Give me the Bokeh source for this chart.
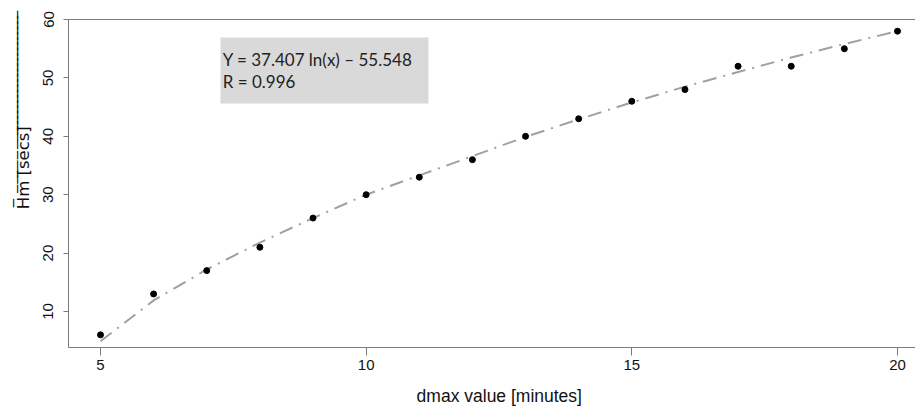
from bokeh.plotting import figure
from bokeh.models import Range1d, LinearAxis, FixedTicker, BoxAnnotation, Label
from bokeh.embed import file_html
from bokeh.resources import INLINE

# ---- data ----
dmax = [5, 6, 7, 8, 9, 10, 11, 12, 13, 14, 15, 16, 17, 18, 19, 20]
hm = [6, 13, 17, 21, 26, 30, 33, 36, 40, 43, 46, 48, 52, 52, 55, 58]
# fitted trend line as drawn in the reference, read at each dmax value
fit_hm = [4.9, 11.9, 17.2, 21.8, 26.0, 30.0, 33.3, 36.6, 39.9, 42.9, 45.8,
          48.5, 51.0, 53.5, 55.8, 58.0]
x_ticks = [5, 10, 15, 20]
y_ticks = [10, 20, 30, 40, 50, 60]
eq_text = "Y = 37.407 ln(x) \u2013 55.548"
r_text = "R = 0.996"
x_label = "dmax value [minutes]"
y_label = "Hm [secs]"

GRAY = "#7a7a7a"
FONT = "Liberation Sans"
TXT = "#111111"
NBSP = "\u00a0"
OVER = "\u0305"

# y title: overlined (the overline runs on past the text, as in the source)
y_title = NBSP * 28 + "".join(c + OVER for c in y_label + NBSP * 22)
x_title = NBSP * 3 + x_label

p = figure(width=915, height=410, output_backend="svg", toolbar_location=None,
           x_range=Range1d(4.398, 20.339), y_range=Range1d(3.836, 60),
           min_border_left=68, min_border_right=0, min_border_top=19,
           min_border_bottom=63, background_fill_color="white",
           border_fill_color="white")
p.outline_line_color = None
p.grid.visible = False

p.line(dmax, fit_hm, line_color="#a0a0a0", line_width=2, line_dash="14 7 2 7")
p.scatter(dmax, hm, size=6, color="black")

# axes
xa = p.xaxis[0]
xa.ticker = FixedTicker(ticks=x_ticks)
xa.minor_tick_line_color = None
xa.major_tick_in = 0
xa.major_tick_out = 8
xa.major_tick_line_color = GRAY
xa.axis_line_color = GRAY
xa.major_label_text_font = FONT
xa.major_label_text_font_size = "15px"
xa.major_label_text_color = TXT
xa.major_label_standoff = 4
xa.axis_label = x_title
xa.axis_label_text_font = FONT
xa.axis_label_text_font_size = "17.5px"
xa.axis_label_text_font_style = "normal"
xa.axis_label_text_color = TXT
xa.axis_label_standoff = 13

ya = p.yaxis[0]
ya.ticker = FixedTicker(ticks=y_ticks)
ya.minor_tick_line_color = None
ya.major_tick_in = 0
ya.major_tick_out = 5
ya.major_tick_line_color = GRAY
ya.axis_line_color = GRAY
ya.major_label_orientation = "vertical"
ya.major_label_text_font = FONT
ya.major_label_text_font_size = "15px"
ya.major_label_text_color = TXT
ya.major_label_standoff = 10
ya.axis_label = y_title
ya.axis_label_text_font = "DejaVu Sans"
ya.axis_label_text_font_size = "16.5px"
ya.axis_label_text_font_style = "normal"
ya.axis_label_text_color = TXT
ya.axis_label_standoff = 8

top = LinearAxis(ticker=FixedTicker(ticks=[]), axis_line_color=GRAY,
                 major_label_text_font_size="0px", major_tick_line_color=None,
                 minor_tick_line_color=None)
p.add_layout(top, "above")

# equation box
p.add_layout(BoxAnnotation(left=7.259, right=11.173, top=56.92, bottom=45.62,
                           fill_color="#d9d9d9", fill_alpha=1, line_color=None))
p.add_layout(Label(x=7.30, y=53.1, text=eq_text, text_font="Lato",
                   text_font_size="17px", text_color="#222222",
                   text_baseline="middle"))
p.add_layout(Label(x=7.30, y=49.3, text=r_text, text_font="Lato",
                   text_font_size="17px", text_color="#222222",
                   text_baseline="middle"))

open("out.html", "w").write(file_html(p, INLINE))
